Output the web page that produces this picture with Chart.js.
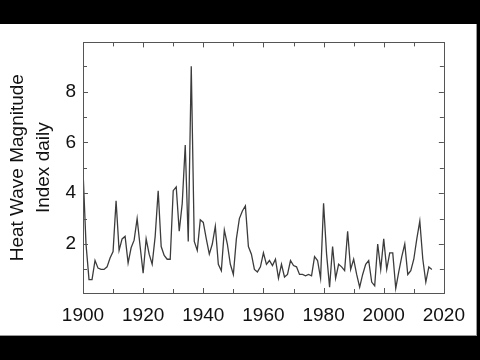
<!DOCTYPE html>
<html lang="en">
<head>
<meta charset="UTF-8">
<script src="https://cdn.jsdelivr.net/npm/chart.js"></script>
<title>Heat Wave Magnitude</title>
<style>
    html, body { margin: 0; padding: 0; background: #000; }
    body { width: 480px; height: 360px; position: relative; overflow: hidden; }
    .painel { position: absolute; left: 0; top: 24px; width: 476px; height: 311px; background: #fff;
              border-right: 1px solid #999; border-bottom: 1px solid #999; }
    #grafico { position: absolute; left: 0; top: 0; }
</style>
</head>
<body>
<div class="painel">
    <canvas id="grafico" width="476" height="311"></canvas>
</div>
<script>
// yearly index, 1900 onwards
const firstYear = 1900;
const hwmid = [
    4.9, 2.0, 0.6, 0.6, 1.35, 1.05, 1.0, 1.0, 1.1, 1.45,
    1.7, 3.7, 1.75, 2.2, 2.3, 1.25, 1.85, 2.15, 3.0, 1.9,
    0.85, 2.2, 1.6, 1.2, 2.3, 4.1, 1.9, 1.55, 1.4, 1.4,
    4.1, 4.25, 2.5, 3.6, 5.9, 2.1, 9.0, 2.1, 1.75, 2.95,
    2.85, 2.2, 1.6, 2.0, 2.7, 1.2, 0.95, 2.55, 2.0, 1.2,
    0.8, 2.2, 3.0, 3.3, 3.5, 1.9, 1.6, 1.0, 0.9, 1.1,
    1.65, 1.2, 1.35, 1.15, 1.4, 0.65, 1.2, 0.7, 0.8, 1.35,
    1.15, 1.1, 0.8, 0.8, 0.75, 0.8, 0.75, 1.5, 1.35, 0.65,
    3.6, 1.6, 0.3, 1.9, 0.65, 1.2, 1.1, 0.95, 2.5, 1.0,
    1.4, 0.8, 0.3, 0.8, 1.2, 1.35, 0.5, 0.35, 2.0, 1.0,
    2.2, 1.0, 1.65, 1.65, 0.25, 0.9, 1.5, 2.0, 0.8, 0.95,
    1.4, 2.2, 2.9, 1.4, 0.5, 1.1, 1.0
];
const xTicks = [1900, 1920, 1940, 1960, 1980, 2000, 2020];
const yTicks = [2, 4, 6, 8];
const yTitle = ['Heat Wave Magnitude', 'Index daily'];

var pontos = [];
for (var i = 0; i < hwmid.length; i++) {
    pontos.push({ x: firstYear + i, y: hwmid[i] });
}

// frame + small inward ticks on all four sides
const moldura = {
    id: 'moldura',
    afterDraw(chart) {
        const ctx = chart.ctx;
        const a = chart.chartArea;
        const sx = chart.scales.x, sy = chart.scales.y;
        ctx.save();
        ctx.strokeStyle = '#555';
        ctx.lineWidth = 1;
        ctx.strokeRect(Math.round(a.left) + 0.5, Math.round(a.top) + 0.5,
                       Math.round(a.right - a.left), Math.round(a.bottom - a.top));
        ctx.beginPath();
        for (var yr = 1910; yr < 2020; yr += 10) {
            const px = Math.round(sx.getPixelForValue(yr)) + 0.5;
            const len = (yr % 20 === 0) ? 5 : 4;
            ctx.moveTo(px, a.bottom); ctx.lineTo(px, a.bottom - len);
            ctx.moveTo(px, a.top); ctx.lineTo(px, a.top + len);
        }
        for (var v = 1; v <= 9; v++) {
            const py = Math.round(sy.getPixelForValue(v)) + 0.5;
            const len = (v % 2 === 0) ? 5 : 4;
            ctx.moveTo(a.left, py); ctx.lineTo(a.left + len, py);
            ctx.moveTo(a.right, py); ctx.lineTo(a.right - len, py);
        }
        ctx.stroke();
        ctx.restore();
    }
};

const ctx = document.getElementById('grafico').getContext('2d');
new Chart(ctx, {
    type: 'line',
    data: {
        datasets: [{
            data: pontos,
            borderColor: '#3c3c3c',
            borderWidth: 1.3,
            pointRadius: 0,
            tension: 0,
            fill: false
        }]
    },
    options: {
        responsive: false,
        animation: false,
        layout: { padding: { top: 16, right: 32, left: 0, bottom: 0 } },
        plugins: { legend: { display: false }, tooltip: { enabled: false } },
        scales: {
            x: {
                type: 'linear',
                min: 1900,
                max: 2020,
                afterBuildTicks: function (s) { s.ticks = xTicks.map(function (t) { return { value: t }; }); },
                afterFit: function (s) { s.height = 42; },
                grid: { display: false, drawTicks: false },
                border: { display: false },
                ticks: {
                    padding: 11,
                    maxRotation: 0,
                    autoSkip: false,
                    color: '#111',
                    font: { family: 'Liberation Sans, Arial, sans-serif', size: 19 },
                    callback: function (v) { return String(v); }
                }
            },
            y: {
                min: 0.07,
                max: 9.94,
                afterBuildTicks: function (s) { s.ticks = yTicks.map(function (t) { return { value: t }; }); },
                afterFit: function (s) { s.width = 83; },
                grid: { display: false, drawTicks: false },
                border: { display: false },
                ticks: {
                    padding: 7,
                    color: '#111',
                    font: { family: 'Liberation Sans, Arial, sans-serif', size: 19 }
                },
                title: {
                    display: true,
                    text: yTitle,
                    color: '#111',
                    padding: { top: 5, bottom: 0 },
                    font: { family: 'Liberation Sans, Arial, sans-serif', size: 19, lineHeight: 1.37 }
                }
            }
        }
    },
    plugins: [moldura]
});
</script>
</body>
</html>
